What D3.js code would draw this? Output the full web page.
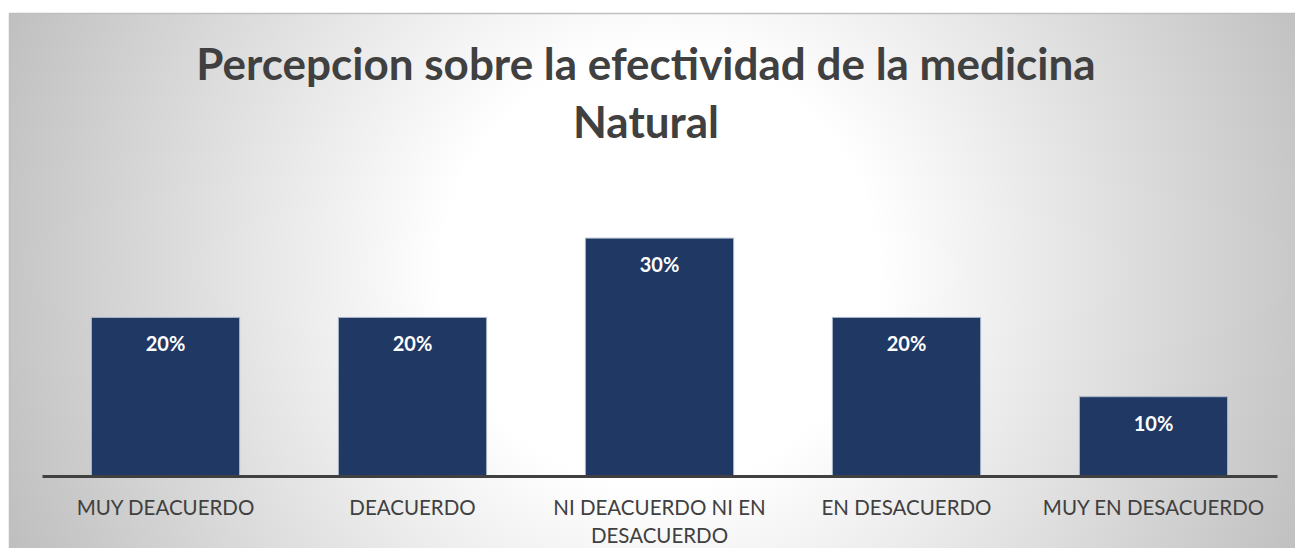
<!DOCTYPE html>
<html>
<head>
<meta charset="utf-8">
<script src="https://cdn.jsdelivr.net/npm/d3@7"></script>
<style>
  body { margin: 0; background: #fff; }
  svg { display: block; }
</style>
</head>
<body>
<div id="chart"></div>
<script>
// datos
var categorias = ["MUY DEACUERDO", "DEACUERDO", "NI DEACUERDO NI EN DESACUERDO", "EN DESACUERDO", "MUY EN DESACUERDO"];
var valores = [0.20, 0.20, 0.30, 0.20, 0.10];
var titulo = ["Percepcion sobre la efectividad de la medicina", "Natural"];

var width = 1295;
var height = 548;

var svg = d3.select("#chart").append("svg")
    .attr("width", width)
    .attr("height", height);

// fondo con degradado radial
var defs = svg.append("defs");
var grad = defs.append("radialGradient")
    .attr("id", "fondo")
    .attr("gradientUnits", "userSpaceOnUse")
    .attr("cx", 660).attr("cy", 270).attr("r", 720);
grad.append("stop").attr("offset", 0).attr("stop-color", "#ffffff");
grad.append("stop").attr("offset", 0.3).attr("stop-color", "#ffffff");
grad.append("stop").attr("offset", 1).attr("stop-color", "#bdbdbd");

svg.append("rect")
    .attr("x", 9.5).attr("y", 13.5)
    .attr("width", 1300).attr("height", 560)
    .attr("fill", "url(#fondo)")
    .attr("stroke", "#bfbfbf")
    .attr("stroke-width", 1.5);

// titulo
svg.append("text")
    .attr("text-anchor", "middle")
    .attr("font-family", "Lato")
    .attr("font-weight", "bold")
    .attr("font-size", 44)
    .attr("fill", "#404040")
  .selectAll("tspan")
    .data(titulo)
  .enter().append("tspan")
    .attr("x", 646)
    .attr("y", function(d, i) { return 80 + i * 58; })
    .text(function(d) { return d; });

// escalas
var x = d3.scaleBand()
    .domain(categorias)
    .range([42, 1277])
    .paddingInner(0.4)
    .paddingOuter(0.2);

var y = d3.scaleLinear()
    .domain([0, 0.35])
    .range([476, 198.5]);

var formato = d3.format(".0%");

// barras
var barra = svg.selectAll("g.barra")
    .data(valores)
  .enter().append("g")
    .attr("class", "barra");

barra.append("rect")
    .attr("x", function(d, i) { return x(categorias[i]); })
    .attr("y", function(d) { return y(d); })
    .attr("width", x.bandwidth())
    .attr("height", function(d) { return y(0) - y(d); })
    .attr("fill", "#1f3864")
    .attr("stroke", "#a9b6c9")
    .attr("stroke-width", 1);

barra.append("text")
    .attr("x", function(d, i) { return x(categorias[i]) + x.bandwidth() / 2; })
    .attr("y", function(d) { return y(d) + 34; })
    .attr("text-anchor", "middle")
    .attr("font-family", "Lato")
    .attr("font-weight", "bold")
    .attr("font-size", 20)
    .attr("fill", "#ffffff")
    .text(function(d) { return formato(d); });

// eje x
var eje = svg.append("g")
    .attr("transform", "translate(0," + y(0) + ")")
    .call(d3.axisBottom(x).tickSize(0).tickSizeOuter(0).tickPadding(0));

eje.select(".domain")
    .attr("stroke", "#404040")
    .attr("stroke-width", 3);

eje.selectAll(".tick text")
    .attr("font-family", "Lato")
    .attr("font-size", 20.5)
    .attr("fill", "#404040")
    .attr("dy", 0)
    .attr("y", 39)
    .call(partir, x.step() - 8);

function partir(textos, ancho) {
  textos.each(function() {
    var texto = d3.select(this),
        palabras = texto.text().split(/\s+/),
        lineas = [],
        linea = [];
    texto.text(null);
    var tspan = texto.append("tspan").attr("x", 0).attr("y", 39);
    palabras.forEach(function(p) {
      linea.push(p);
      tspan.text(linea.join(" "));
      if (tspan.node().getComputedTextLength() > ancho && linea.length > 1) {
        linea.pop();
        lineas.push(linea.join(" "));
        linea = [p];
      }
    });
    lineas.push(linea.join(" "));
    texto.text(null);
    lineas.forEach(function(l, i) {
      texto.append("tspan")
          .attr("x", 0)
          .attr("y", 39 + i * 28)
          .text(l);
    });
  });
}
</script>
</body>
</html>
